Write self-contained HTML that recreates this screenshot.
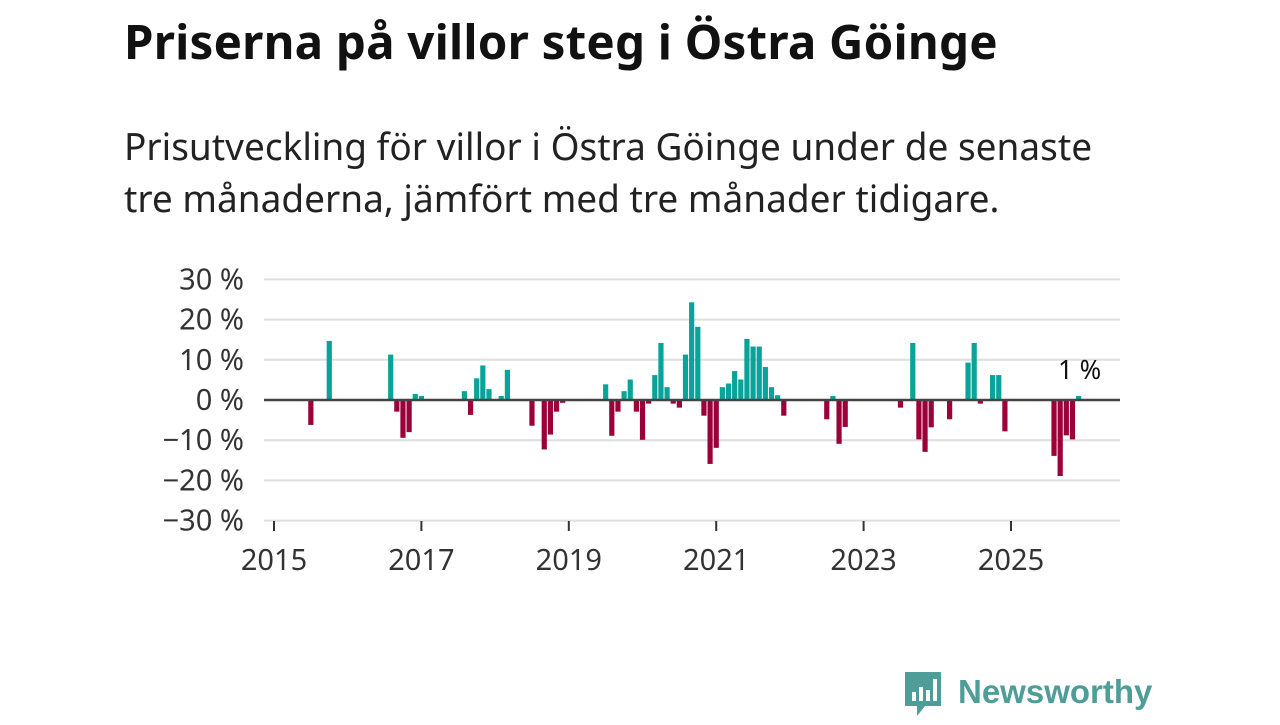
<!DOCTYPE html>
<html><head><meta charset="utf-8"><style>
body{margin:0;width:1280px;height:720px;background:#fff;font-family:"Noto Sans","DejaVu Sans","Liberation Sans",sans-serif;color:#111;position:relative;overflow:hidden}
#title{position:absolute;left:124px;top:8px;font-size:47.5px;font-weight:bold;margin:0;letter-spacing:0.2px;white-space:nowrap}
#sub{position:absolute;left:124px;top:120px;font-size:37px;line-height:52px;width:1010px;color:#222}
#logo{position:absolute;left:903px;top:670px}
</style></head><body>
<h1 id="title">Priserna på villor steg i Östra Göinge</h1>
<div id="sub">Prisutveckling för villor i Östra Göinge under de senaste tre månaderna, jämfört med tre månader tidigare.</div>
<svg id="chart" width="1280" height="720" style="position:absolute;left:0;top:0"></svg>
<div id="logo">
<svg width="280" height="50">
<path d="M2 2 H38 V36 H22 L14 46 V36 H2 Z" fill="#4e9d98"/>
<rect x="9" y="22" width="4" height="9" fill="#fff"/><rect x="16" y="17" width="4" height="14" fill="#fff"/><rect x="23" y="20" width="4" height="11" fill="#fff"/><rect x="30" y="9" width="4" height="22" fill="#fff"/>
<text x="55" y="33" font-size="33" font-weight="bold" fill="#4e9d98" font-family="Liberation Sans, sans-serif">Newsworthy</text>
</svg></div>
<script>
const months=["2015-07","2015-10","2016-08","2016-09","2016-10","2016-11","2016-12","2017-01","2017-08","2017-09","2017-10","2017-11","2017-12","2018-02","2018-03","2018-07","2018-09","2018-10","2018-11","2018-12","2019-07","2019-08","2019-09","2019-10","2019-11","2019-12","2020-01","2020-02","2020-03","2020-04","2020-05","2020-06","2020-07","2020-08","2020-09","2020-10","2020-11","2020-12","2021-01","2021-02","2021-03","2021-04","2021-05","2021-06","2021-07","2021-08","2021-09","2021-10","2021-11","2021-12","2022-07","2022-08","2022-09","2022-10","2023-07","2023-09","2023-10","2023-11","2023-12","2024-03","2024-06","2024-07","2024-08","2024-10","2024-11","2024-12","2025-08","2025-09","2025-10","2025-11","2025-12"];
const values=[-6.2,14.7,11.3,-2.9,-9.4,-8,1.5,1,2.2,-3.7,5.4,8.6,2.7,1,7.5,-6.4,-12.3,-8.6,-2.9,-0.7,3.9,-8.9,-2.9,2.2,5.1,-2.9,-9.9,-0.9,6.2,14.2,3.2,-0.9,-1.9,11.3,24.3,18.2,-3.9,-15.9,-11.9,3.2,4.1,7.2,5.1,15.2,13.3,13.3,8.2,3.2,1.2,-3.9,-4.8,1,-10.9,-6.7,-1.9,14.2,-9.8,-12.9,-6.8,-4.8,9.3,14.2,-0.9,6.2,6.2,-7.8,-13.9,-18.9,-8.8,-9.8,1];
const yTicks=[30,20,10,0,-10,-20,-30];
const yTickLabels=["30 %","20 %","10 %","0 %","−10 %","−20 %","−30 %"];
const xTicks=[2015,2017,2019,2021,2023,2025];
const lastLabel="1 %";
const NS="http://www.w3.org/2000/svg";
const svg=document.getElementById('chart');
const y=v=>400-v*4.02;
const xm=s=>{const [yy,mm]=s.split('-').map(Number);return 274+((yy-2015)*12+(mm-1))*6.142;};
const xy=yr=>274+(yr-2015)*73.7;
function el(t,a){const e=document.createElementNS(NS,t);for(const k in a)e.setAttribute(k,a[k]);svg.appendChild(e);return e;}
yTicks.forEach((v,i)=>{
 if(v!==0){const g=el('line',{x1:264,x2:1120,y1:y(v),y2:y(v),stroke:'#dedede','stroke-width':2});
 
 }
 const t=el('text',{x:244,y:y(v)+10,'text-anchor':'end','font-size':29,fill:'#333'});
 t.textContent=yTickLabels[i];
 
 
});
xTicks.forEach(yr=>{
 const l=el('line',{x1:xy(yr),x2:xy(yr),y1:521,y2:531,stroke:'#333','stroke-width':2});
 
 
 const t=el('text',{x:xy(yr),y:570,'text-anchor':'middle','font-size':29,fill:'#333'});
 t.textContent=yr;
 
 
});
months.forEach((m,i)=>{
 const v=values[i];const cx=xm(m);
 const r=el('rect',{x:cx-2.6,width:5.2,y:v>=0?y(v):400,height:Math.abs(y(v)-400),fill:v>=0?'#0aa39a':'#9b0039'});
 
 
});
const z=el('line',{x1:264,x2:1120,y1:400,y2:400,stroke:'#444','stroke-width':2.5});


const lt=el('text',{x:xm(months[months.length-1])+1,y:379,'text-anchor':'middle','font-size':26,fill:'#111'});
lt.textContent=lastLabel;


</script>
</body></html>
